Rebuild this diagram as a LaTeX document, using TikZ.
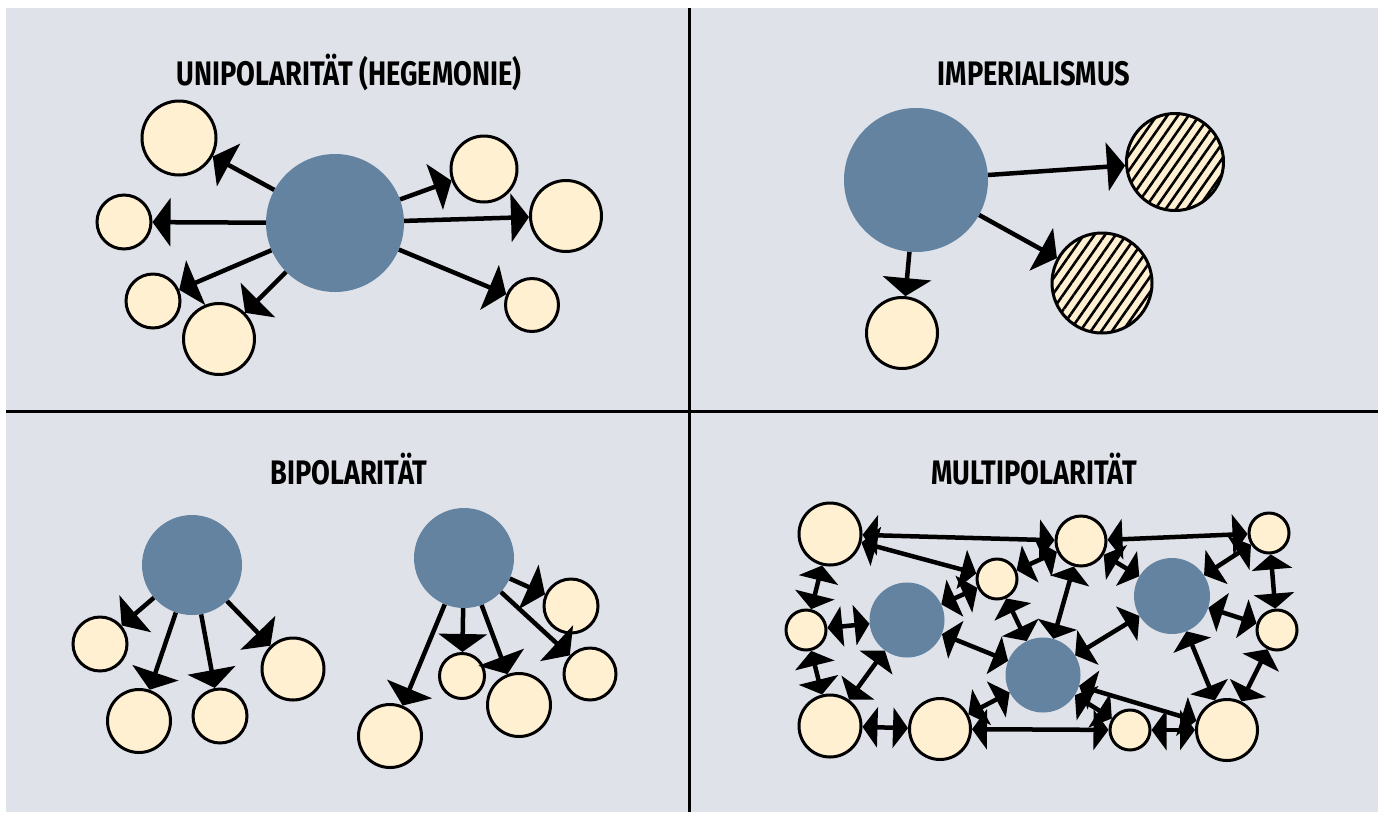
\documentclass[tikz,border=0pt]{standalone}
\usepackage{fontspec}
\setmainfont{Fira Sans}[FakeStretch=0.8]
\usepackage{xcolor}
\usetikzlibrary{arrows.meta,patterns.meta}
\definecolor{panelgrey}{RGB}{223,226,233}
\definecolor{powerblue}{RGB}{99,131,161}
\definecolor{statecream}{RGB}{255,240,210}
\begin{document}
\begin{tikzpicture}[x=1pt,y=-1pt,
  power/.style={circle, fill=powerblue, inner sep=0pt, minimum size=#1},
  state/.style={circle, draw, line width=3pt, fill=statecream, inner sep=0pt, minimum size=#1},
  colony/.style={state=#1, postaction={pattern={Lines[angle=55,distance=8.7pt,line width=2.6pt]}, pattern color=black}},
  title/.style={anchor=base, font=\bfseries\fontsize{34}{40}\selectfont},
  link/.style={line width=4.5pt, -{Triangle[length=18pt,width=48pt]}},
  mutual/.style={line width=4.5pt, {Triangle[length=15pt,width=40pt]}-{Triangle[length=15pt,width=40pt]}}]
  \useasboundingbox (0,0) rectangle (1378,812);
  \fill[panelgrey] (6,8) rectangle (1378,812);
  \draw[line width=3pt] (689,8) -- (689,812);
  \draw[line width=3pt] (6,411) -- (1378,411);

  \node[title] (unititle) at (349,85) {UNIPOLARITÄT (HEGEMONIE)};
  \node[power=138pt] (uhub) at (335,223) {};
  \node[state=74pt] (u1) at (179,138) {};
  \node[state=54pt] (u2) at (124,222) {};
  \node[state=54pt] (u3) at (153,301) {};
  \node[state=71pt] (u4) at (219,339) {};
  \node[state=66pt] (u5) at (484,169) {};
  \node[state=71pt] (u6) at (566,216) {};
  \node[state=53pt] (u7) at (532,305) {};
  \draw[link] (uhub) -- (u1);
  \draw[link] (uhub) -- (u2);
  \draw[link] (uhub) -- (u3);
  \draw[link] (uhub) -- (u4);
  \draw[link] (uhub) -- (u5);
  \draw[link] (uhub) -- (u6);
  \draw[link] (uhub) -- (u7);

  \node[title] (imptitle) at (1034,85) {IMPERIALISMUS};
  \node[power=144pt] (ihub) at (916,180) {};
  \node[colony=97pt] (ic1) at (1175,162) {};
  \node[colony=100pt] (ic2) at (1102,283) {};
  \node[state=71pt] (is1) at (902,333) {};
  \draw[link] (ihub) -- (ic1);
  \draw[link] (ihub) -- (ic2);
  \draw[link] (ihub) -- (is1);

  \node[title] (bititle) at (349,484) {BIPOLARITÄT};
  \node[power=100pt] (bwest) at (192,565) {};
  \node[state=54pt] (b1) at (100,644) {};
  \node[state=63pt] (b2) at (139,721) {};
  \node[state=54pt] (b3) at (220,716) {};
  \node[state=62pt] (b4) at (293,669) {};
  \node[power=100pt] (beast) at (464,558) {};
  \node[state=54pt] (b5) at (571,606) {};
  \node[state=52pt] (b6) at (590,674) {};
  \node[state=45pt] (b7) at (462,676) {};
  \node[state=63pt] (b8) at (519,705) {};
  \node[state=63pt] (b9) at (390,736) {};
  \draw[link] (bwest) -- (b1);
  \draw[link] (bwest) -- (b2);
  \draw[link] (bwest) -- (b3);
  \draw[link] (bwest) -- (b4);
  \draw[link] (beast) -- (b5);
  \draw[link] (beast) -- (b6);
  \draw[link] (beast) -- (b7);
  \draw[link] (beast) -- (b8);
  \draw[link] (beast) -- (b9);

  \node[title] (multititle) at (1034,484) {MULTIPOLARITÄT};
  \node[power=75pt] (mp1) at (907,620) {};
  \node[power=75pt] (mp2) at (1043,675) {};
  \node[power=76pt] (mp3) at (1172,596) {};
  \node[state=62pt] (ma) at (830,534) {};
  \node[state=50pt] (mb) at (1081,541) {};
  \node[state=40pt] (mc) at (1269,533) {};
  \node[state=40pt] (md) at (997,579) {};
  \node[state=40pt] (me) at (806,630) {};
  \node[state=40pt] (mf) at (1277,630) {};
  \node[state=62pt] (mg) at (830,726) {};
  \node[state=61pt] (mh) at (940,729) {};
  \node[state=40pt] (mi) at (1130,730) {};
  \node[state=61pt] (mj) at (1227,730) {};
  \draw[mutual] (ma) -- (mb);
  \draw[mutual] (mb) -- (mc);
  \draw[mutual] (ma) -- (md);
  \draw[mutual] (md) -- (mb);
  \draw[mutual] (md) -- (mp1);
  \draw[mutual] (md) -- (mp2);
  \draw[mutual] (mb) -- (mp2);
  \draw[mutual] (mb) -- (mp3);
  \draw[mutual] (mc) -- (mp3);
  \draw[mutual] (mc) -- (mf);
  \draw[mutual] (mp3) -- (mf);
  \draw[mutual] (ma) -- (me);
  \draw[mutual] (me) -- (mp1);
  \draw[mutual] (me) -- (mg);
  \draw[mutual] (mg) -- (mp1);
  \draw[mutual] (mp1) -- (mp2);
  \draw[mutual] (mp2) -- (mp3);
  \draw[mutual] (mf) -- (mj);
  \draw[mutual] (mp3) -- (mj);
  \draw[mutual] (mp2) -- (mj);
  \draw[mutual] (mg) -- (mh);
  \draw[mutual] (mh) -- (mi);
  \draw[mutual] (mh) -- (mp2);
  \draw[mutual] (mp2) -- (mi);
  \draw[mutual] (mi) -- (mj);
\end{tikzpicture}
\end{document}
